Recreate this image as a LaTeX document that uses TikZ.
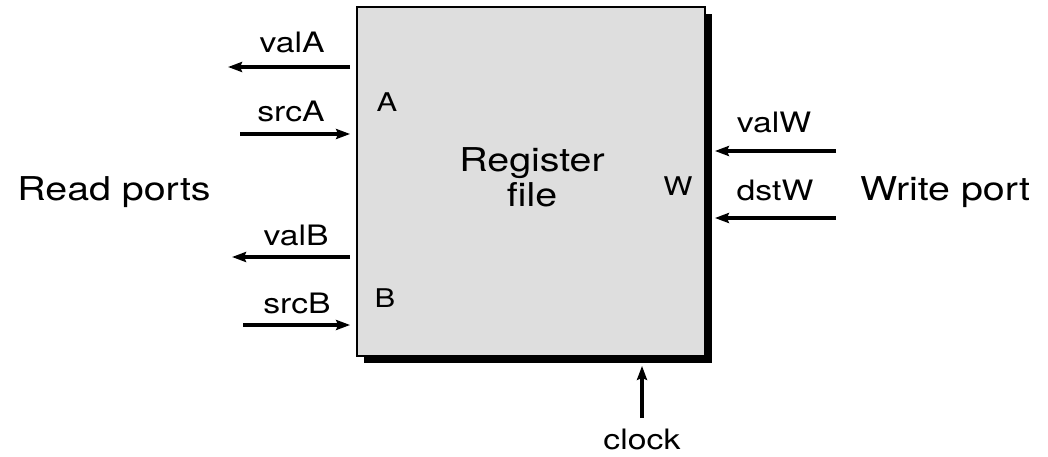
\documentclass[tikz,border=0pt]{standalone}
\usepackage{fontspec}
\setmainfont{TeX Gyre Heros}[FakeStretch=1.2]
\definecolor{rfgray}{RGB}{222,222,222}
\usetikzlibrary{arrows.meta,shadows}

\begin{document}
\begin{tikzpicture}[x=0.03cm,y=-0.03cm,
  regbox/.style={draw,line width=1.5pt,fill=rfgray,minimum width=10.44cm,minimum height=10.47cm,
    drop shadow={shadow xshift=0.2cm,shadow yshift=-0.2cm,opacity=1,fill=black}},
  sig/.style={font=\fontsize{24}{28}\selectfont,anchor=base,inner sep=0pt},
  side/.style={font=\fontsize{28}{30}\selectfont,anchor=base,inner sep=0pt},
  portid/.style={font=\fontsize{22}{26}\selectfont,anchor=base,inner sep=0pt},
  wire/.style={line width=3.2pt,-{Stealth[length=0.42cm,width=0.3cm,inset=0.06cm]}},
  outw/.style={wire,shorten <=0.18cm},
  inw/.style={wire,shorten >=0.18cm}
]
  \useasboundingbox (0,0) rectangle (1048,457);

  % register file
  \node[regbox] (rf) at (531,181.5) {};
  \node[side] (rfname) at (532,172) {Register};
  \node[side] (rfname2) at (532,207) {file};

  % read port A
  \node[portid] (pa) at (387,112) {A};
  \node[sig] (valA) at (292,53) {valA};
  \node[sig] (srcA) at (291,122) {srcA};
  \coordinate (valA-out) at (228,67);
  \coordinate (srcA-in) at (240,134);
  \draw[outw] (rf.west |- valA-out) -- (valA-out);
  \draw[inw] (srcA-in) -- (rf.west |- srcA-in);

  % read port B
  \node[portid] (pb) at (385,307) {B};
  \node[sig] (valB) at (296,245) {valB};
  \node[sig] (srcB) at (297,313) {srcB};
  \coordinate (valB-out) at (232,257);
  \coordinate (srcB-in) at (243,325);
  \draw[outw] (rf.west |- valB-out) -- (valB-out);
  \draw[inw] (srcB-in) -- (rf.west |- srcB-in);

  \node[side] (rd) at (114,200) {Read ports};

  % write port
  \node[portid] (pw) at (678,195) {W};
  \node[sig] (valW) at (774,133) {valW};
  \node[sig] (dstW) at (775,200) {dstW};
  \coordinate (valW-in) at (836,151);
  \coordinate (dstW-in) at (836,218);
  \draw[wire,shorten >=0.27cm] (valW-in) -- (rf.east |- valW-in);
  \draw[wire,shorten >=0.27cm] (dstW-in) -- (rf.east |- dstW-in);

  \node[side] (wr) at (945,200) {Write port};

  % clock
  \node[sig] (clk) at (642,449) {clock};
  \coordinate (clk-in) at (642,418);
  \draw[wire,shorten >=0.27cm] (clk-in) -- (clk-in |- rf.south);
\end{tikzpicture}
\end{document}
